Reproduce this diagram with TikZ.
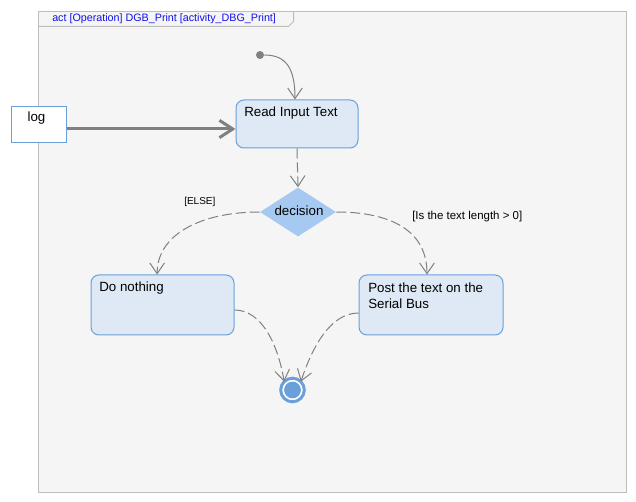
\documentclass[tikz,border=0pt]{standalone}
\usepackage{fontspec}
\setmainfont{Liberation Sans}
\usetikzlibrary{arrows.meta,shapes.geometric}
\definecolor{framebg}{HTML}{F5F5F5}
\definecolor{framecol}{HTML}{BDBDBD}
\definecolor{boxfill}{HTML}{DFE9F5}
\definecolor{boxline}{HTML}{6A9FDA}
\definecolor{decfill}{HTML}{A6C9F2}
\definecolor{linegray}{HTML}{808080}
\definecolor{titleblue}{HTML}{1010F0}
\tikzset{
  actbox/.style={draw=boxline, fill=boxfill, rounded corners=6pt, line width=0.75pt, inner sep=0pt},
  boxtext/.style={anchor=base west, inner sep=0pt, align=left, font=\fontsize{10}{12}\selectfont},
  small/.style={inner sep=0pt, font=\fontsize{8}{10}\selectfont},
  flow/.style={draw=linegray, line width=0.75pt, dash pattern=on 7.5pt off 3pt, -{Straight Barb[length=8pt,width=11pt]}},
  solidflow/.style={draw=linegray, line width=0.75pt, -{Straight Barb[length=8pt,width=11pt]}},
}
\begin{document}
\begin{tikzpicture}[x=0.75pt,y=-0.75pt]
\useasboundingbox (0,0) rectangle (636,502);
\fill[white] (0,0) rectangle (636,502);
% frame
\draw[framecol, fill=framebg, line width=0.75pt] (38.5,11.5) rectangle (626.5,492.5);
\draw[framecol, line width=0.75pt] (38.5,26.5) -- (288.5,26.5) -- (293.5,21.5) -- (293.5,11.5);
\node[anchor=base west, inner sep=0pt, text=titleblue, font=\fontsize{8.05}{9}\selectfont] (title) at (52,22) {act [Operation] DGB\_Print [activity\_DBG\_Print]};
% nodes
\node[draw=boxline, fill=white, line width=0.75pt, minimum width=41.25pt, minimum height=27pt, inner sep=0pt] (log) at (38.5,125) {};
\node[boxtext, anchor=base] (logtext) at (36.5,122) {log};
\node[actbox, minimum width=91.5pt, minimum height=36pt] (read) at (297,124) {};
\node[boxtext] (readtext) at (244,116.5) {Read Input Text};
\node[diamond, fill=decfill, inner sep=0pt, minimum width=57pt, minimum height=36.75pt, aspect=1.55] (dec) at (298,212) {};
\node[boxtext, anchor=base] (dectext) at (299,216) {decision};
\node[actbox, minimum width=107.25pt, minimum height=45pt] (nothing) at (162.5,305) {};
\node[boxtext] (nothingtext) at (99,292) {Do nothing};
\node[actbox, minimum width=108pt, minimum height=45pt] (post) at (431,305) {};
\node[boxtext, anchor=north west] (posttext) at (368,282.4) {Post the text on the\\[0pt]Serial Bus};
\node[circle, fill=linegray, inner sep=0pt, minimum size=6pt] (init) at (260,55) {};
\node[circle, draw=boxline, fill=white, line width=2.25pt, inner sep=0pt, minimum size=17.7pt, outer sep=0pt] (final) at (292.5,390) {};
\fill[boxline] (final.center) circle (8.4);
% labels
\node[small, anchor=base west, font=\fontsize{7.5}{9}\selectfont] (elselbl) at (184,205) {[ELSE]};
\node[small, anchor=base west, font=\fontsize{8.6}{10}\selectfont] (condlbl) at (412,220) {[Is the text length > 0]};
% connectors
\draw[solidflow] (init.east) .. controls (286,55) and (295,68) .. ([xshift=-1.5pt]read.north);
\draw[draw=linegray, line width=2.25pt, -{Straight Barb[length=10pt,width=13pt]}] ([yshift=-3pt]log.east) -- ([yshift=-3.75pt]read.west);
\draw[flow] (read.south) -- (dec.north);
\draw[flow] (dec.west) .. controls (200,212) and (157,235) .. ([xshift=-4pt]nothing.north);
\draw[flow] (dec.east) .. controls (390,212) and (427,230) .. ([xshift=-3pt]post.north);
\draw[flow] ([yshift=-3.75pt]nothing.east) .. controls (262,310) and (278,345) .. (final.north west);
\draw[flow] ([yshift=-6pt]post.west) .. controls (330,313) and (312,348) .. (final.north east);
\end{tikzpicture}
\end{document}
